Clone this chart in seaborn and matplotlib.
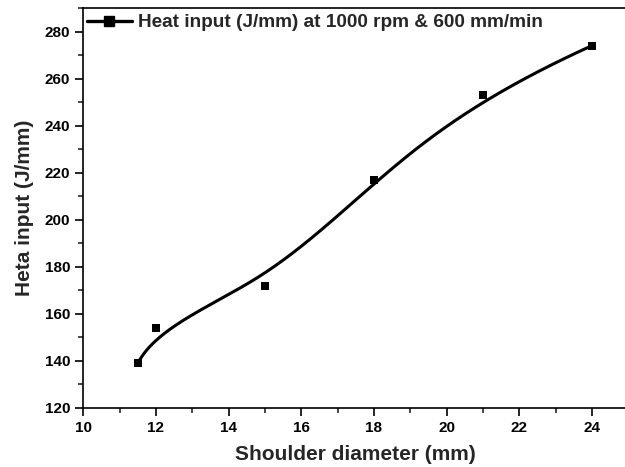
import numpy as np
import pandas as pd
import matplotlib
matplotlib.use("Agg")
import matplotlib.pyplot as plt
from matplotlib.lines import Line2D
from matplotlib.ticker import MultipleLocator
import seaborn as sns

shoulder_diameter = [11.5, 12, 15, 18, 21, 24]
heat_input = [139, 154, 172, 217, 253, 274]
legend_label = "Heat input (J/mm) at 1000 rpm & 600 mm/min"

sns.set_theme(style="ticks")
plt.rcParams['font.family'] = ['Liberation Sans', 'DejaVu Sans']
plt.rcParams['font.weight'] = 'bold'


def bspline(px, py, n=400, k=3):
    P = np.column_stack([px, py]).astype(float)
    m = len(P)
    knots = np.concatenate([np.zeros(k), np.linspace(0, 1, m - k + 1), np.ones(k)])
    t = np.linspace(0, 1, n)
    t[-1] = 1 - 1e-12

    def N(i, kk, tt):
        if kk == 0:
            return np.where((knots[i] <= tt) & (tt < knots[i + 1]), 1.0, 0.0)
        a = 0.0
        d1 = knots[i + kk] - knots[i]
        if d1 > 0:
            a = (tt - knots[i]) / d1 * N(i, kk - 1, tt)
        b = 0.0
        d2 = knots[i + kk + 1] - knots[i + 1]
        if d2 > 0:
            b = (knots[i + kk + 1] - tt) / d2 * N(i + 1, kk - 1, tt)
        return a + b

    C = sum(N(i, k, t)[:, None] * P[i] for i in range(m))
    return C[:, 0], C[:, 1]


cx, cy = bspline(shoulder_diameter, heat_input)
curve = pd.DataFrame({"x": cx, "y": cy})
pts = pd.DataFrame({"x": shoulder_diameter, "y": heat_input})

fig = plt.figure(figsize=(6.25, 4.67), dpi=100)
ax = fig.add_axes([0.1333, 0.1264, 0.872, 0.8565])

sns.lineplot(data=curve, x="x", y="y", ax=ax, color="black", lw=2.2, sort=False, estimator=None)
sns.scatterplot(data=pts, x="x", y="y", ax=ax, color="black", marker="s", s=38,
                edgecolor="black", linewidth=0, zorder=3)

ax.set_xlim(10, 25)
ax.set_ylim(120, 290)
ax.xaxis.set_major_locator(MultipleLocator(2))
ax.xaxis.set_minor_locator(MultipleLocator(1))
ax.yaxis.set_major_locator(MultipleLocator(20))
ax.yaxis.set_minor_locator(MultipleLocator(10))
ax.tick_params(which="major", direction="out", length=5.5, width=1.2, labelsize=11, colors="black")
ax.tick_params(axis="x", which="major", pad=4)
ax.tick_params(axis="y", which="major", pad=4)
ax.tick_params(which="minor", direction="out", length=3.5, width=1.2)
for lab in ax.get_xticklabels() + ax.get_yticklabels():
    lab.set_fontweight("bold")
for s in ax.spines.values():
    s.set_linewidth(1.2)
    s.set_color("black")

ax.set_xlabel("Shoulder diameter (mm)", fontsize=15, fontweight="bold", labelpad=7)
ax.set_ylabel("Heta input (J/mm)", fontsize=15, fontweight="bold", labelpad=8)

handle = Line2D([], [], color="black", lw=2.4, marker="s", markersize=7)
ax.legend([handle], [legend_label], loc="upper left", frameon=False,
          prop={"size": 13.7, "weight": "bold"}, handlelength=2.35,
          borderaxespad=0, borderpad=0, handletextpad=0.32,
          bbox_to_anchor=(0.007, 0.985))

fig.savefig("out.png", dpi=100)
